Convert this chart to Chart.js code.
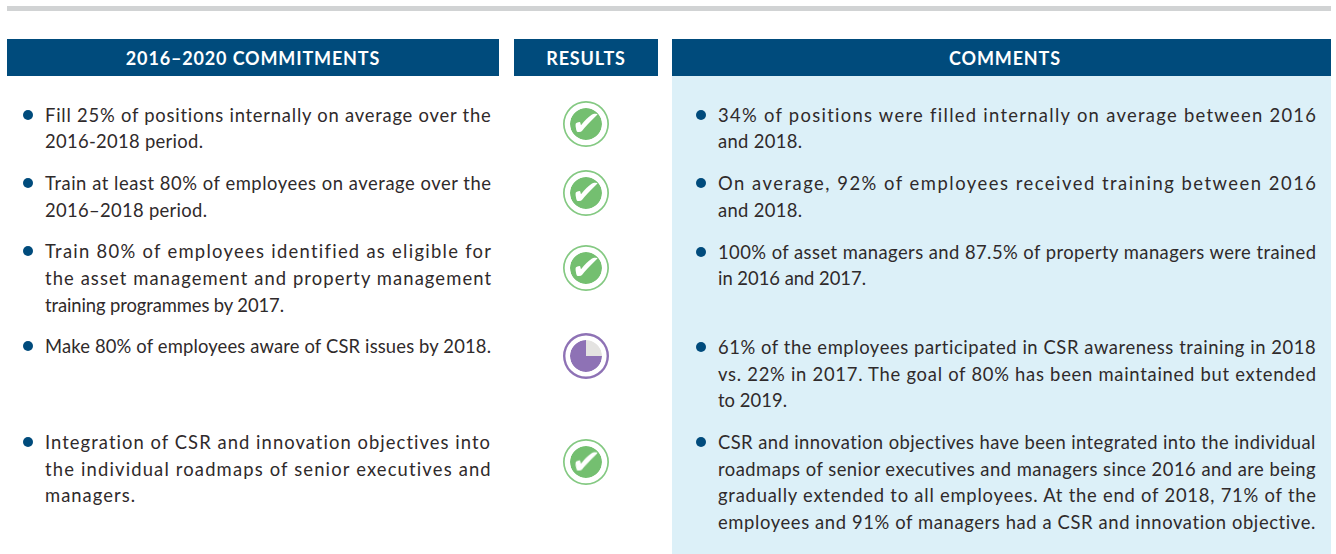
<!DOCTYPE html>
<html><head><meta charset="utf-8">
<script src="https://cdn.jsdelivr.net/npm/chart.js@4"></script>
<style>
html,body{margin:0;padding:0;background:#fff;width:1336px;height:554px;overflow:hidden;font-family:Lato,sans-serif;color:#2f2a2b}
.abs{position:absolute}
.hdr{background:#004b7c;color:#fff;font-weight:700;font-size:18px;letter-spacing:.85px;text-align:center;height:37px;line-height:38px;top:39px;box-sizing:border-box}
.ln{position:absolute;font-size:18.4px;line-height:26px;height:26px;white-space:nowrap}
.dot{position:absolute;width:10px;height:10px;border-radius:50%;background:#004b7c}
.ic{position:absolute;width:52px;height:52px}
.ic canvas{display:block}
.chk{position:absolute;color:#fff;width:36px;height:36px;text-align:center;font:700 30px/36px "DejaVu Sans",sans-serif;transform:skewX(-8deg) scale(1.12)}
</style></head><body>
<div class="abs" style="left:7px;top:6px;width:1324px;height:5px;background:#d1d3d4"></div>
<div class="abs" style="left:672px;top:76px;width:659px;height:478px;background:#dcf0f8"></div>
<div class="abs hdr" style="left:7px;width:492px">2016–2020 COMMITMENTS</div>
<div class="abs hdr" style="left:514px;width:144px">RESULTS</div>
<div class="abs hdr" style="left:672px;width:659px;padding-left:7px">COMMENTS</div>
<div id="t"></div>
<script>
const categories = ["Fill 25%","Train 80% avg","Train 80% eligible","CSR awareness","CSR objectives"];
const achieved = [100,100,100,75,100];
const remaining = [0,0,0,25,0];
const iconColors = ["#74bf70","#74bf70","#74bf70","#8e72b5","#74bf70"];
const ringColors = ["#84c982","#84c982","#84c982","#8e72b5","#84c982"];
const ringWeights = [1.7,1.7,1.7,2.4,1.7];
const iconCentreY = [124,193,268,356,462];
const leftBullets = [115,183,251,346,442];
const rightBullets = [115,183,252,347,442];
// text, top, right edge
const leftLines = [
 ["Fill 25% of positions internally on average over the",102,491],
 ["2016-2018 period.",128,203],
 ["Train at least 80% of employees on average over the",170,491],
 ["2016–2018 period.",197,207],
 ["Train 80% of employees identified as eligible for",238,491],
 ["the asset management and property management",265,491],
 ["training programmes by 2017.",292,284],
 ["Make 80% of employees aware of CSR issues by 2018.",333,491],
 ["Integration of CSR and innovation objectives into",429,491],
 ["the individual roadmaps of senior executives and",456,491],
 ["managers.",482,135]];
const rightLines = [
 ["34% of positions were filled internally on average between 2016",102,1316],
 ["and 2018.",128,802],
 ["On average, 92% of employees received training between 2016",170,1316],
 ["and 2018.",197,802],
 ["100% of asset managers and 87.5% of property managers were trained",239,1316],
 ["in 2016 and 2017.",265,866],
 ["61% of the employees participated in CSR awareness training in 2018",334,1316],
 ["vs. 22% in 2017. The goal of 80% has been maintained but extended",361,1316],
 ["to 2019.",387,787],
 ["CSR and innovation objectives have been integrated into the individual",429,1316],
 ["roadmaps of senior executives and managers since 2016 and are being",456,1316],
 ["gradually extended to all employees. At the end of 2018, 71% of the",482,1316],
 ["employees and 91% of managers had a CSR and innovation objective.",509,1316]];
const t = document.getElementById('t');
function addLines(lines,x){ lines.forEach(([s,y,r])=>{ const d=document.createElement('div');
  d.className='ln'; d.style.left=x+'px'; d.style.top=y+'px'; d.textContent=s; t.appendChild(d);
  const w=d.getBoundingClientRect().width; d.style.letterSpacing=((r-x-w)/(s.length-1))+'px';});}
addLines(leftLines,45); addLines(rightLines,718);
function addDots(a,x){a.forEach(y=>{const d=document.createElement('div');d.className='dot';d.style.left=x+'px';d.style.top=(y-5)+'px';t.appendChild(d);});}
addDots(leftBullets,23); addDots(rightBullets,696);
categories.forEach((c,i)=>{
  const box=document.createElement('div'); box.className='ic';
  box.style.left=(586-26)+'px'; box.style.top=(iconCentreY[i]-26)+'px';
  const cv=document.createElement('canvas'); cv.width=52; cv.height=52; box.appendChild(cv); t.appendChild(box);
  new Chart(cv,{type:'pie',data:{labels:['Achieved','Remaining'],datasets:[
    {data:[100],backgroundColor:[ringColors[i]],borderWidth:0,weight:ringWeights[i]},
    {data:[100],backgroundColor:['#ffffff'],borderWidth:0,weight:7-ringWeights[i]},
    {data:[achieved[i],remaining[i]],backgroundColor:[iconColors[i],'#e4e3e1'],borderWidth:0,weight:16}
  ]},options:{responsive:false,animation:false,cutout:0,rotation:90,layout:{padding:3},plugins:{legend:{display:false},tooltip:{enabled:false}}}});
  if(achieved[i]===100){const k=document.createElement('div');k.className='chk';k.textContent='✔';
    k.style.left=(586-18)+'px';k.style.top=(iconCentreY[i]-18)+'px';t.appendChild(k);}
});
</script>
</body></html>
